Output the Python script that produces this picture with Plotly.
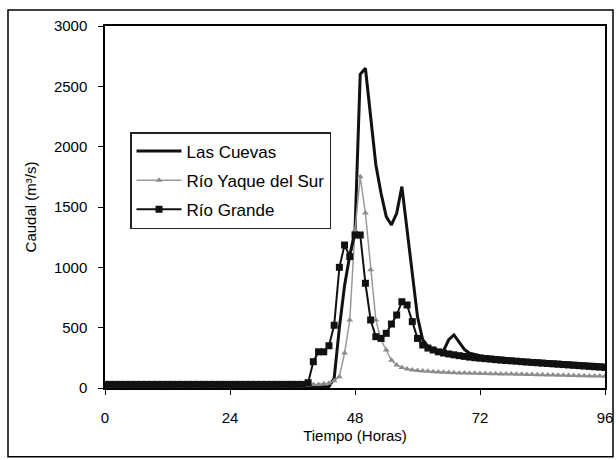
import plotly.graph_objects as go

hours = list(range(0, 97))
x_ticks = [0, 24, 48, 72, 96]
y_ticks = [0, 500, 1000, 1500, 2000, 2500, 3000]

las_cuevas = [
    10, 10, 10, 10, 10, 10, 10, 10, 10, 10, 10, 10, 10, 10, 10, 10, 10, 10, 10, 10, 10, 10,
    10, 10, 10, 10, 10, 10, 10, 10, 10, 10, 10, 10, 10, 10, 10, 10, 10, 10, 10, 10, 10, 10,
    80, 500, 850, 1100, 1300,
    2600, 2650, 2250, 1850, 1614,
    1420, 1351, 1448, 1669, 1310,
    1000, 590, 400, 345, 320,
    305, 310, 400, 440, 380,
    320, 288, 275, 268, 262,
    257, 252, 248, 244, 240,
    236, 232, 229, 226, 223,
    220, 217, 214, 211, 208,
    205, 202, 200, 198, 196,
    194, 192, 190,
]

rio_yaque = [
    0, 0, 0, 0, 0, 0, 0, 0, 0, 0, 0, 0, 0, 0, 0, 0, 0, 0, 0, 0,
    0, 0, 0, 0, 0, 0, 0, 0, 0, 0, 0, 0, 0, 0, 0, 0, 0, 0, 0,
    25, 30, 30, 35, 40,
    60, 94, 290, 564, 1310,
    1750, 1450, 980, 564, 400,
    315, 230, 190, 170, 158,
    150, 145, 141, 138, 135,
    133, 131, 129, 127, 125,
    124, 123, 122, 121, 120,
    119, 118, 117, 116, 115,
    114, 113, 112, 111, 110,
    109, 108, 107, 106, 105,
    104, 103, 102, 101, 100,
    100, 99, 98,
]

rio_grande = [
    30, 30, 30, 30, 30, 30, 30, 30, 30, 30, 30, 30, 30, 30, 30, 30, 30, 30, 30, 30,
    30, 30, 30, 30, 30, 30, 30, 30, 30, 30, 30, 30, 30, 30, 30, 30, 30, 30, 30,
    44, 218, 300, 300, 350,
    520, 1000, 1185, 1089, 1268,
    1268, 868, 564, 425, 411,
    453, 530, 605, 715, 688,
    550, 411, 356, 331, 315,
    300, 290, 282, 275, 268,
    262, 256, 251, 247, 243,
    239, 235, 231, 228, 225,
    222, 218, 215, 212, 209,
    206, 203, 200, 197, 194,
    191, 188, 185, 182, 179,
    176, 173, 170,
]

FONT = "Liberation Sans, Arial, sans-serif"

fig = go.Figure()
fig.add_trace(go.Scatter(
    x=hours, y=las_cuevas, name="Las Cuevas", mode="lines",
    line=dict(color="#111111", width=3), legendgroup="a", cliponaxis=False,
))
fig.add_trace(go.Scatter(
    x=hours, y=rio_yaque, name="Río Yaque del Sur", mode="lines+markers",
    line=dict(color="#9a9a9a", width=1.5),
    marker=dict(symbol="triangle-up", size=6, color="#8c8c8c"), legendgroup="b",
))
fig.add_trace(go.Scatter(
    x=hours, y=rio_grande, name="Río Grande", mode="lines+markers",
    line=dict(color="#111111", width=2),
    marker=dict(symbol="square", size=7, color="#111111"), legendgroup="c",
))

fig.update_layout(
    width=616, height=460,
    margin=dict(l=105, r=11, t=26, b=72, autoexpand=False),
    paper_bgcolor="white", plot_bgcolor="white",
    font=dict(family=FONT, size=15, color="black"),
    showlegend=True,
    legend=dict(
        x=0.05, y=0.707, xanchor="left", yanchor="top",
        bgcolor="white", bordercolor="#222222", borderwidth=1.5,
        font=dict(family=FONT, size=17, color="black"),
        tracegroupgap=4, itemwidth=45,
    ),
    xaxis=dict(
        range=[0, 96], tickvals=x_ticks, ticks="outside", ticklen=5,
        tickcolor="black", showgrid=False, zeroline=False, automargin=False,
        showline=True, linecolor="black", linewidth=1.5, mirror=True,
        title=dict(text="Tiempo (Horas)", standoff=6, font=dict(size=15)),
        tickfont=dict(size=15), ticklabelstandoff=10,
    ),
    yaxis=dict(
        range=[0, 3000], tickvals=y_ticks, ticks="outside", ticklen=5,
        tickcolor="black", showgrid=False, zeroline=False, automargin=False,
        showline=True, linecolor="black", linewidth=1.5, mirror=True,
        title=dict(text="Caudal (m³/s)", standoff=14, font=dict(size=15)),
        tickfont=dict(size=15), ticklabelstandoff=8,
    ),
    xaxis2=dict(
        overlaying="x", anchor="y", range=[0, 96], tickvals=x_ticks,
        ticks="inside", ticklen=5, tickcolor="black", showticklabels=False,
        showgrid=False, zeroline=False, showline=False,
    ),
    yaxis2=dict(
        overlaying="y", anchor="x", range=[0, 3000], tickvals=y_ticks,
        ticks="inside", ticklen=5, tickcolor="black", showticklabels=False,
        showgrid=False, zeroline=False, showline=False,
    ),
)

# outer frame of the figure
fig.add_shape(type="rect", xref="paper", yref="paper",
              x0=-0.194, x1=1.016, y0=-0.19, y1=1.044,
              line=dict(color="black", width=1.5), layer="below")

fig.write_html("out.html")
